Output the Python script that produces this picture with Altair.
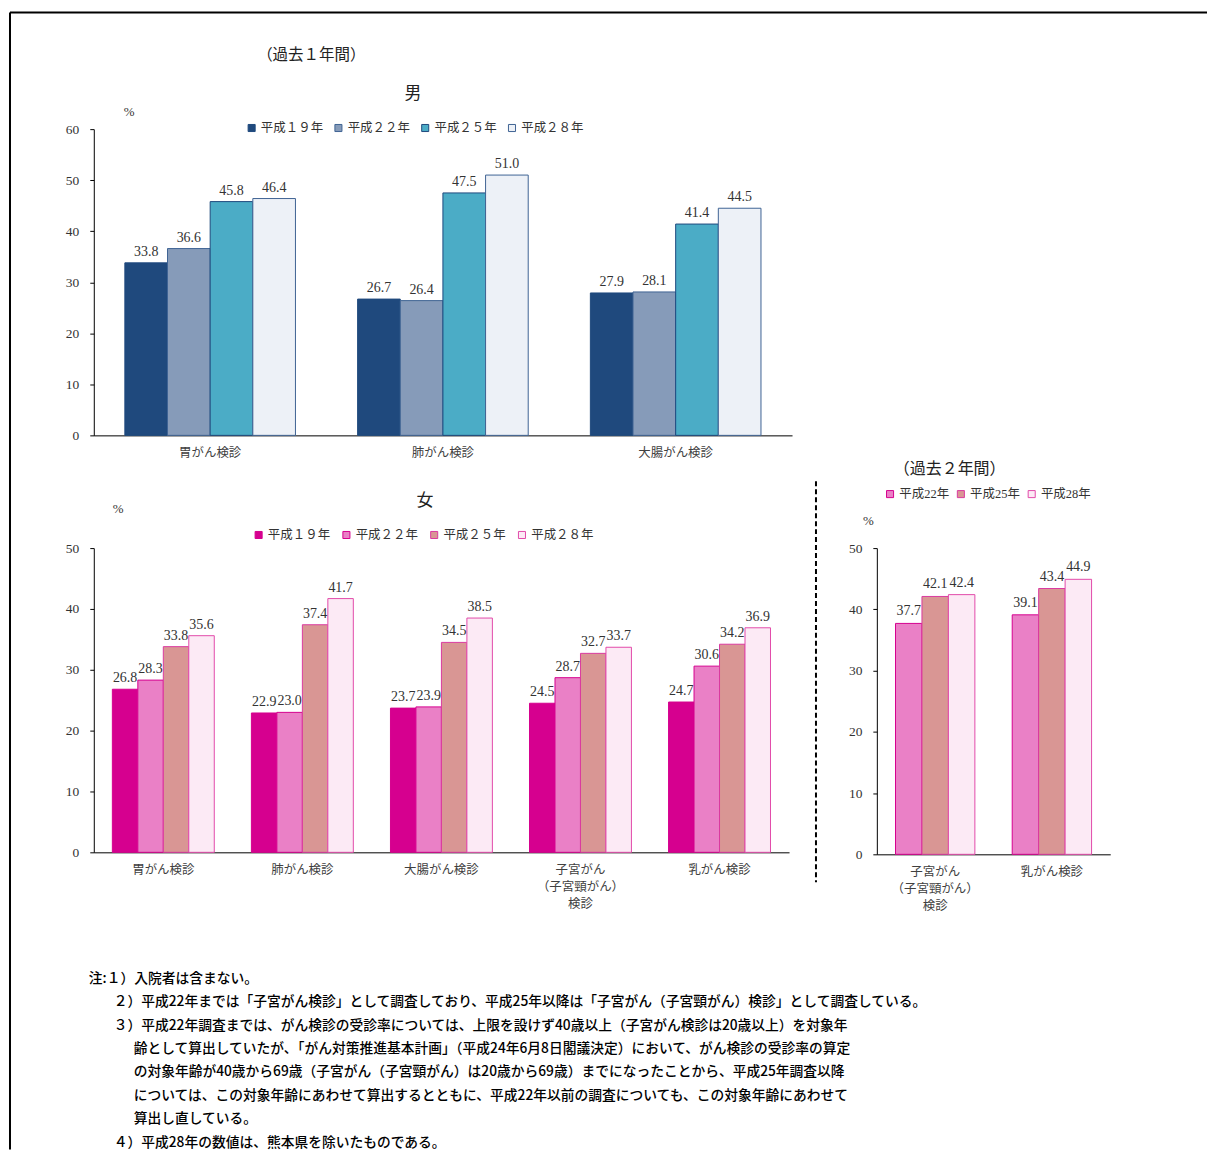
import altair as alt
import pandas as pd

# ---------------- data ----------------
MALE_CATS = ["胃がん検診", "肺がん検診", "大腸がん検診"]
FEMALE_CATS = ["胃がん検診", "肺がん検診", "大腸がん検診", "子宮がん\n（子宮頸がん）\n検診", "乳がん検診"]
FEMALE2_CATS = ["子宮がん\n（子宮頸がん）\n検診", "乳がん検診"]

YEARS_1 = ["平成１９年", "平成２２年", "平成２５年", "平成２８年"]
YEARS_2 = ["平成22年", "平成25年", "平成28年"]

MALE_H19 = [33.8, 26.7, 27.9]
MALE_H22 = [36.6, 26.4, 28.1]
MALE_H25 = [45.8, 47.5, 41.4]
MALE_H28 = [46.4, 51.0, 44.5]

FEMALE_H19 = [26.8, 22.9, 23.7, 24.5, 24.7]
FEMALE_H22 = [28.3, 23.0, 23.9, 28.7, 30.6]
FEMALE_H25 = [33.8, 37.4, 34.5, 32.7, 34.2]
FEMALE_H28 = [35.6, 41.7, 38.5, 33.7, 36.9]

FEMALE2_H22 = [37.7, 39.1]
FEMALE2_H25 = [42.1, 43.4]
FEMALE2_H28 = [42.4, 44.9]

Y_TICKS_MALE = [0, 10, 20, 30, 40, 50, 60]
Y_TICKS_FEMALE = [0, 10, 20, 30, 40, 50]

HEAD_1 = "（過去１年間）"
HEAD_2 = "（過去２年間）"
TITLE_MALE = "男"
TITLE_FEMALE = "女"
UNIT = "%"

NOTES = [
    "注:１）入院者は含まない。",
    "２）平成22年までは「子宮がん検診」として調査しており、平成25年以降は「子宮がん（子宮頸がん）検診」として調査している。",
    "３）平成22年調査までは、がん検診の受診率については、上限を設けず40歳以上（子宮がん検診は20歳以上）を対象年",
    "齢として算出していたが、「がん対策推進基本計画」（平成24年6月8日閣議決定）において、がん検診の受診率の算定",
    "の対象年齢が40歳から69歳（子宮がん（子宮頸がん）は20歳から69歳）までになったことから、平成25年調査以降",
    "については、この対象年齢にあわせて算出するとともに、平成22年以前の調査についても、この対象年齢にあわせて",
    "算出し直している。",
    "４）平成28年の数値は、熊本県を除いたものである。",
]
# 0 = first note line, 1 = numbered note, 2 = continuation line
NOTE_LEVEL = [0, 1, 1, 2, 2, 2, 2, 1]

# ---------------- styles ----------------
SERIF = "Liberation Serif, Noto Sans CJK JP"
SANS = "Noto Sans CJK JP"

M_FILL = ["#1F497D", "#869BB9", "#4BACC6", "#EDF1F7"]
M_STROKE = ["#1F497D", "#3F6394", "#1F497D", "#3F6394"]
F_FILL = ["#D6008F", "#EA80C6", "#D99694", "#FCEAF5"]
F_STROKE = ["#D6008F", "#D6008F", "#DA3AA0", "#E24AAA"]
F2_FILL = F_FILL[1:]
F2_STROKE = F_STROKE[1:]


def long_df(cats, years, series):
    rows = []
    for yi, yr in enumerate(years):
        for ci, c in enumerate(cats):
            rows.append({"cat": c, "year": yr, "value": series[yi][ci]})
    return pd.DataFrame(rows)


male_df = long_df(MALE_CATS, YEARS_1, [MALE_H19, MALE_H22, MALE_H25, MALE_H28])
female_df = long_df(FEMALE_CATS, YEARS_1, [FEMALE_H19, FEMALE_H22, FEMALE_H25, FEMALE_H28])
female2_df = long_df(FEMALE2_CATS, YEARS_2, [FEMALE2_H22, FEMALE2_H25, FEMALE2_H28])

ONE = pd.DataFrame({"k": [0]})


def text_layer(txt, x, y, size, font=SERIF):
    return alt.Chart(pd.DataFrame({"t": [txt]})).mark_text(
        font=font, fontSize=size, color="#222", baseline="middle", align="center"
    ).encode(text="t:N", x=alt.value(x), y=alt.value(y))


def panel(df, cats, years, fills, strokes, ymax, yticks, pad,
          leg_x, leg_y, col_pad, pct_x, pct_y, label_dy):
    base = alt.Chart(df)
    x = alt.X(
        "cat:N",
        scale=alt.Scale(domain=cats, paddingInner=pad, paddingOuter=pad / 2),
        axis=alt.Axis(
            title=None, labelAngle=0, ticks=False, domainColor="black",
            labelExpr="split(datum.label, '\\n')", labelLineHeight=17,
            labelPadding=11, labelFont=SANS, labelFontSize=12.5,
            labelColor="#404040",
        ),
    )
    xo = alt.XOffset("year:N", scale=alt.Scale(domain=years, paddingInner=0, paddingOuter=0))
    y = alt.Y(
        "value:Q",
        scale=alt.Scale(domain=[0, ymax], nice=False),
        axis=alt.Axis(
            values=yticks, grid=False, tickSize=4, tickColor="black",
            domainColor="black", labelPadding=11, labelFont=SERIF,
            labelFontSize=13.5, labelColor="#333",
            title=UNIT, titleAngle=0, titleX=pct_x, titleY=pct_y,
            titleAlign="center", titleBaseline="middle", titleFont=SERIF,
            titleFontSize=13, titleFontWeight="normal", titleColor="#333",
        ),
    )
    leg = alt.Legend(
        orient="none", legendX=leg_x, legendY=leg_y, direction="horizontal",
        title=None, symbolType="square", symbolSize=50, symbolStrokeWidth=1,
        labelFont=SERIF, labelFontSize=12.5, labelColor="#333",
        labelOffset=3, columnPadding=col_pad, padding=0,
    )
    bars = base.mark_bar(strokeWidth=1).encode(
        x=x, xOffset=xo, y=y,
        color=alt.Color("year:N", scale=alt.Scale(domain=years, range=fills), legend=leg),
        stroke=alt.Stroke("year:N", scale=alt.Scale(domain=years, range=strokes), legend=leg),
    )
    labels = base.mark_text(
        baseline="bottom", dy=label_dy, font=SERIF, fontSize=14, color="#333"
    ).encode(x=x, xOffset=xo, y=y, text=alt.Text("value:Q", format=".1f"))
    return bars, labels


# ---------------- male (past 1 year) ----------------
m_bars, m_labels = panel(male_df, MALE_CATS, YEARS_1, M_FILL, M_STROKE, 60, Y_TICKS_MALE,
                         0.267, 152, -7.5, 8, 35, -18, -4)
frame_top = alt.Chart(ONE).mark_rule(color="black", strokeWidth=2).encode(
    x=alt.value(-84), x2=alt.value(1116), y=alt.value(-117))
frame_left = alt.Chart(ONE).mark_rule(color="black", strokeWidth=2).encode(
    x=alt.value(-84), y=alt.value(-117), y2=alt.value(1023))
male = alt.layer(
    m_bars, m_labels,
    text_layer(HEAD_1, 218, -74, 15.5),
    text_layer(TITLE_MALE, 320, -35, 17),
    frame_top, frame_left,
).properties(width=700, height=307)

# ---------------- female (past 1 year) ----------------
f_bars, f_labels = panel(female_df, FEMALE_CATS, YEARS_1, F_FILL, F_STROKE, 50, Y_TICKS_FEMALE,
                         0.267, 159, -19.5, 9, 24, -40, -4)
separator = alt.Chart(ONE).mark_rule(color="black", strokeWidth=2, strokeDash=[5, 3]).encode(
    x=alt.value(724), y=alt.value(-67), y2=alt.value(335))
female = alt.layer(
    f_bars, f_labels,
    text_layer(TITLE_FEMALE, 332, -47, 17),
    separator,
).properties(width=697, height=305)

# ---------------- female (past 2 years) ----------------
f2_bars, f2_labels = panel(female2_df, FEMALE2_CATS, YEARS_2, F2_FILL, F2_STROKE, 50, Y_TICKS_FEMALE,
                           0.32, 7, -60.5, 5, -9, -28, -5)
female2 = alt.layer(
    f2_bars, f2_labels,
    text_layer(HEAD_2, 73, -79, 16),
).properties(width=234, height=307)

# ---------------- notes ----------------
notes_df = pd.DataFrame({"idx": list(range(len(NOTES))), "line": NOTES, "level": NOTE_LEVEL})
notes_base = alt.Chart(notes_df)
note_y = alt.Y("idx:Q", scale=alt.Scale(domain=[-0.5, 7], reverse=True), axis=None)


def note_layer(level, x):
    return notes_base.transform_filter(alt.datum.level == level).mark_text(
        align="left", baseline="middle", font=SANS, fontSize=13.8,
        fontWeight=500, color="black"
    ).encode(x=alt.value(x), y=note_y, text="line:N")


notes = alt.layer(
    note_layer(0, -5), note_layer(1, 20), note_layer(2, 40)
).properties(width=700, height=176)


def placeholder():
    return alt.Chart(ONE).mark_point(opacity=0).encode(
        x=alt.value(0), y=alt.value(0)).properties(width=1, height=1)


chart = alt.concat(
    male, placeholder(), female, female2, notes, placeholder(),
    columns=2, spacing={"row": 113, "column": 85}, bounds="flush", align="each",
).resolve_scale(
    x="independent", y="independent", xOffset="independent",
    color="independent", stroke="independent"
).resolve_legend(
    color="independent", stroke="independent"
).properties(
    padding={"left": 0, "top": 1, "right": 0, "bottom": 0}, background="white"
).configure_view(stroke="transparent")

chart.save("out.html", embed_options={"renderer": "svg", "actions": False})
